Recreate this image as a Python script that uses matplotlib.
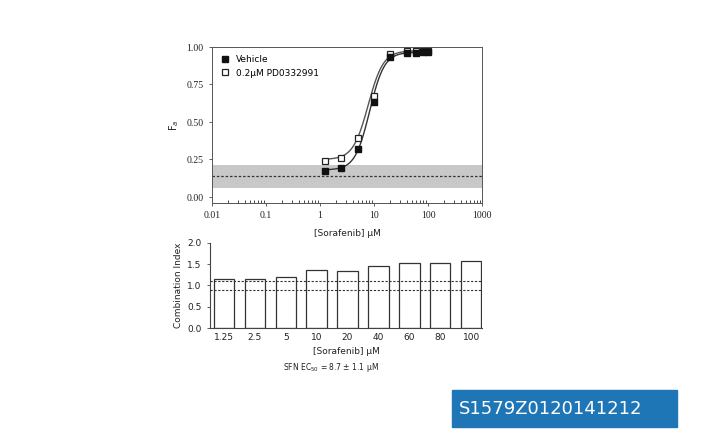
import matplotlib
matplotlib.use('Agg')
import matplotlib.pyplot as plt
import numpy as np

# dose-response data (fraction affected)
conc = [1.25, 2.5, 5, 10, 20, 40, 60, 80, 100]
fa_vehicle = [0.17, 0.19, 0.32, 0.63, 0.93, 0.96, 0.96, 0.965, 0.965]
fa_pd = [0.24, 0.26, 0.39, 0.67, 0.95, 0.97, 0.97, 0.975, 0.975]

# fitted Hill parameters: bottom, top, EC50, slope
fit_vehicle = (0.18, 0.965, 8.3, 3.2)
fit_pd = (0.25, 0.975, 7.8, 3.1)

# control band
band_low, band_high, band_mid = 0.06, 0.213, 0.14

# combination index
ci_labels = ['1.25', '2.5', '5', '10', '20', '40', '60', '80', '100']
ci_values = [1.15, 1.15, 1.21, 1.37, 1.33, 1.45, 1.53, 1.53, 1.57]
ci_lines = [0.9, 1.1]

W, H = 701, 448
fig = plt.figure(figsize=(W / 100, H / 100), dpi=100)

ax = fig.add_axes([212 / W, 1 - 203 / H, 270 / W, 156 / H])
ax.set_xscale('log')
ax.set_xlim(0.01, 1000)
ax.set_ylim(-0.04, 1.0)
ax.axhspan(band_low, band_high, color='#c8c8c8', lw=0, zorder=1)
ax.axhline(band_mid, color='#333333', ls=(0, (2, 1.5)), lw=0.9, zorder=2)


def hill(p, x):
    b, t, ec, h = p
    return b + (t - b) / (1 + (ec / x) ** h)


xs = np.logspace(np.log10(1.25), np.log10(100), 200)
ax.plot(xs, hill(fit_vehicle, xs), color='#333333', lw=1.0, zorder=3)
ax.plot(xs, hill(fit_pd, xs), color='#555555', lw=1.0, zorder=3)
ax.plot(conc, fa_pd, 's', ms=5, mfc='white', mec='#222222', mew=0.9, zorder=4,
        label='0.2μM PD0332991')
ax.plot(conc, fa_vehicle, 's', ms=5, color='#111111', zorder=5, label='Vehicle')

h, l = ax.get_legend_handles_labels()
ax.legend(h[::-1], l[::-1], loc='upper left', frameon=False, fontsize=6.5,
          handletextpad=0.8, borderpad=0.4, labelspacing=0.5, handlelength=1.0)

ax.set_yticks([0, 0.25, 0.5, 0.75, 1.0])
ax.set_yticklabels(['0.00', '0.25', '0.50', '0.75', '1.00'])
ax.set_xticks([0.01, 0.1, 1, 10, 100, 1000])
ax.set_xticklabels(['0.01', '0.1', '1', '10', '100', '1000'])
for lab in ax.get_xticklabels() + ax.get_yticklabels():
    lab.set_family('Liberation Serif')
ax.tick_params(labelsize=7, length=2.5, width=0.6, color='#444444', labelcolor='#222222')
ax.tick_params(which='minor', direction='in', length=2, width=0.5)
for s in ax.spines.values():
    s.set_color('#555555')
    s.set_linewidth(0.7)
ax.set_xlabel('[Sorafenib] μM', fontsize=6.5, labelpad=6, color='#222222')
ax.set_ylabel('F$_a$', fontsize=7, labelpad=4, color='#222222')

# combination index bars
bx = fig.add_axes([210 / W, 1 - 328 / H, 272 / W, 85 / H])
pos = np.arange(len(ci_values))
bx.bar(pos, ci_values, width=0.66, color='white', edgecolor='#333333', lw=0.9, zorder=2)
for v in ci_lines:
    bx.axhline(v, color='#333333', ls=(0, (2, 1.5)), lw=0.8, zorder=3)
bx.set_xlim(-0.45, 8.35)
bx.set_ylim(0, 2.0)
bx.set_yticks([0, 0.5, 1.0, 1.5, 2.0])
bx.set_yticklabels(['0.0', '0.5', '1.0', '1.5', '2.0'])
bx.set_xticks(pos)
bx.set_xticklabels(ci_labels)
bx.spines['top'].set_visible(False)
bx.spines['right'].set_visible(False)
for s in ['left', 'bottom']:
    bx.spines[s].set_color('#444444')
    bx.spines[s].set_linewidth(0.8)
bx.tick_params(labelsize=6.5, length=2.5, width=0.6, color='#444444', labelcolor='#222222')
bx.tick_params(axis='x', length=0)
bx.set_xlabel('[Sorafenib] μM', fontsize=6.5, labelpad=4, color='#222222')
bx.set_ylabel('Combination Index', fontsize=6.5, labelpad=3, color='#222222')

fig.text(331 / W, 1 - 367 / H, 'SFN EC$_{50}$ = 8.7 ± 1.1 μM', fontsize=5.5,
         ha='center', va='center', color='#222222')

# catalog badge
fig.patches.append(plt.Rectangle((452 / W, 1 - 427 / H), 225 / W, 37 / H,
                                 transform=fig.transFigure, color='#1e76b6', zorder=5))
fig.text(459 / W, 1 - 409 / H, 'S1579Z0120141212', fontsize=13, color='white',
         ha='left', va='center', zorder=6)

fig.savefig('out.png', dpi=100)
plt.close()
